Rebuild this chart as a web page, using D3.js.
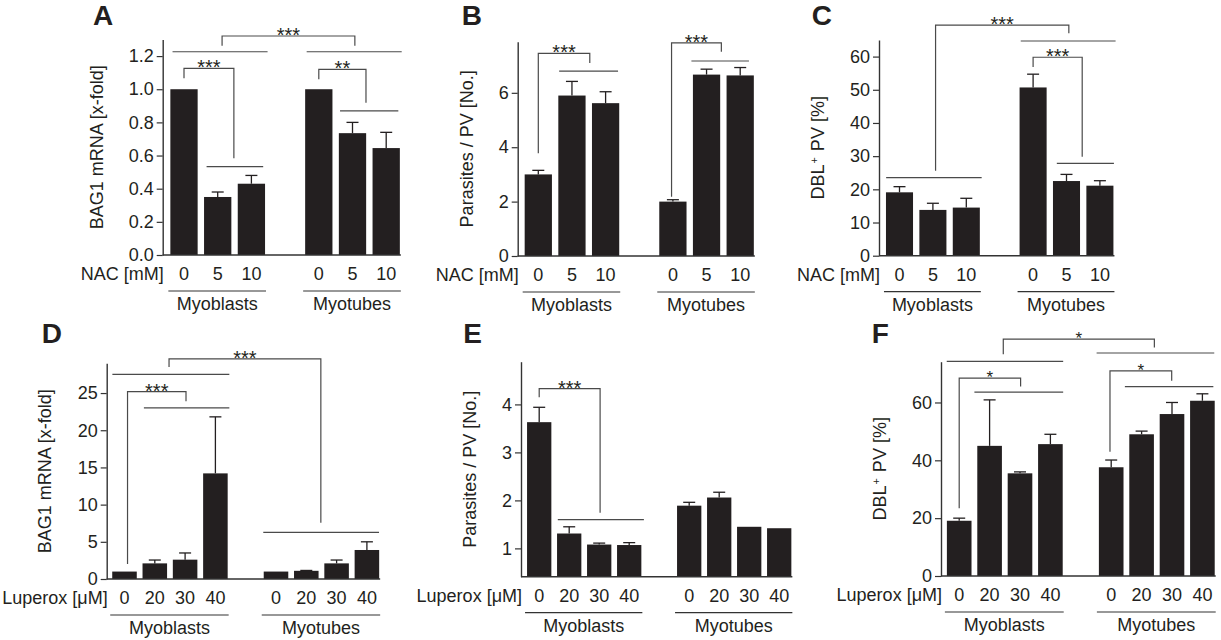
<!DOCTYPE html>
<html>
<head>
<meta charset="utf-8">
<script src="https://cdn.jsdelivr.net/npm/d3@7"></script>
<style>
  body { margin: 0; background: #fff; }
  svg text { font-family: "Liberation Sans", Arial, sans-serif; fill: #231f20; }
</style>
</head>
<body>
<svg id="fig" width="1221" height="640"></svg>
<script>
// categories
const cellGroups = ["Myoblasts", "Myotubes"];
const nacDoses = ["0", "5", "10"];
const luperoxDoses = ["0", "20", "30", "40"];

// A: BAG1 mRNA, NAC
const bagNacMean = [1.0, 0.35, 0.43, 1.0, 0.735, 0.645];
const bagNacErr  = [0, 0.03, 0.05, 0, 0.065, 0.095];
// B: parasites / PV, NAC
const parNacMean = [3.0, 5.9, 5.62, 2.0, 6.67, 6.64];
const parNacErr  = [0.15, 0.52, 0.42, 0.07, 0.2, 0.29];
// C: DBL+ PV, NAC
const dblNacMean = [19.1, 13.8, 14.5, 50.7, 22.5, 21.1];
const dblNacErr  = [1.7, 2.0, 2.8, 4.0, 2.0, 1.5];
// D: BAG1 mRNA, Luperox
const bagLupMean = [1.0, 2.1, 2.6, 14.2, 1.0, 1.1, 2.1, 3.9];
const bagLupErr  = [0, 0.45, 0.9, 7.6, 0, 0.05, 0.45, 1.1];
// E: parasites / PV, Luperox
const parLupMean = [3.63, 1.31, 1.08, 1.07, 1.89, 2.06, 1.45, 1.42];
const parLupErr  = [0.31, 0.14, 0.03, 0.05, 0.07, 0.11, 0, 0];
// F: DBL+ PV, Luperox
const dblLupMean = [19.1, 45.0, 35.5, 45.6, 37.6, 49.0, 56.0, 60.6];
const dblLupErr  = [0.9, 15.9, 0.5, 3.4, 2.5, 1.1, 4.0, 2.4];

// tick labels
const ticksA = [0, 0.2, 0.4, 0.6, 0.8, 1.0, 1.2];
const ticksB = [0, 2, 4, 6];
const ticksC = [0, 10, 20, 30, 40, 50, 60];
const ticksD = [0, 5, 10, 15, 20, 25];
const ticksE = [1, 2, 3, 4];
const ticksF = [0, 20, 40, 60];

// significance: [slot1, slot2, y, yDrop1, yDrop2, label] and plain lines [slot1, slot2, y]
const sigA = [[1.13, 5.07, 1.321, 1.263, 1.263, "***"], [0, 1.48, 1.126, 1.066, 0.583, "***"], [4, 5.4, 1.12, 1.06, 0.919, "**"]];
const linA = [[-0.34, 2.48, 1.226], [3.64, 6.46, 1.226], [0.67, 2.35, 0.533], [4.63, 6.36, 0.869]];
const sigB = [[0, 1.53, 7.45, 3.78, 7.1, "***"], [3.96, 5.44, 7.84, 2.18, 7.51, "***"]];
const linB = [[0.62, 2.37, 6.8], [4.55, 6.26, 7.17]];
const sigC = [[1.08, 5.07, 69.5, 25.6, 67, "***"], [4, 5.47, 59.8, 56.9, 29.8, "***"]];
const linC = [[3.63, 6.47, 64.7], [-0.4, 2.46, 23.5], [4.71, 6.42, 27.8]];
const sigD = [[1.47, 6.48, 29.6, 28.5, 7.56, "***"], [0.1, 2.03, 25.2, 2.0, 23.9, "***"]];
const linD = [[-0.4, 3.46, 27.5], [0.64, 3.46, 23.0], [4.58, 8.4, 6.27]];
const sigE = [[0, 2.03, 4.33, 4.15, 1.74, "***"]];
const linE = [[0.62, 3.49, 1.6]];
const sigF = [[1.45, 6.42, 81.9, 76.7, 79, "*"], [0, 2.02, 68.4, 23.4, 65.5, "*"], [4.96, 6.99, 70.9, 43, 67.5, "*"]];
const linF = [[-0.41, 3.42, 74.2], [4.52, 8.39, 77.1], [0.5, 3.42, 63.6], [5.45, 8.36, 65.5]];

const slots3 = [0, 1, 2, 4, 5, 6];
const slots4 = [0, 1, 2, 3, 5, 6, 7, 8];

const panels = [
  {letter: "A", lx: 93, ly: 25, axisX: 162.7, slot0: 184, step: 33.7, top: 39.5, bottom: 255, domain: [0, 1.3],
   ticks: ticksA, fmt: d3.format(".1f"), ylabel: "BAG1 mRNA [x-fold]", labOff: 66, doseName: "NAC [mM]",
   doses: nacDoses, slots: slots3, mean: bagNacMean, err: bagNacErr, sig: sigA, lin: linA, star: 20},
  {letter: "B", lx: 461.7, ly: 25, axisX: 517.7, slot0: 538.3, step: 33.65, top: 41.7, bottom: 256, domain: [0, 7.88],
   ticks: ticksB, fmt: d3.format("d"), ylabel: "Parasites / PV [No.]", labOff: 51, doseName: "NAC [mM]",
   doses: nacDoses, slots: slots3, mean: parNacMean, err: parNacErr, sig: sigB, lin: linB, star: 20},
  {letter: "C", lx: 811.7, ly: 25, axisX: 879, slot0: 899.5, step: 33.4, top: 40, bottom: 255.7, domain: [0, 65],
   ticks: ticksC, fmt: d3.format("d"), ylabel: "DBL", labOff: 61, doseName: "NAC [mM]",
   doses: nacDoses, slots: slots3, mean: dblNacMean, err: dblNacErr, sig: sigC, lin: linC, star: 20, sup: true},
  {letter: "D", lx: 41.7, ly: 343, axisX: 106.7, slot0: 124.5, step: 30.3, top: 363.3, bottom: 579, domain: [0, 29],
   ticks: ticksD, fmt: d3.format("d"), ylabel: "BAG1 mRNA [x-fold]", labOff: 62, doseName: "Luperox [\u03bcM]",
   doses: luperoxDoses, slots: slots4, mean: bagLupMean, err: bagLupErr, sig: sigD, lin: linD, star: 20},
  {letter: "E", lx: 463.3, ly: 343, axisX: 521, slot0: 539.2, step: 30, top: 361.7, bottom: 576.7, domain: [0.41, 4.89],
   ticks: ticksE, fmt: d3.format("d"), ylabel: "Parasites / PV [No.]", labOff: 51, doseName: "Luperox [\u03bcM]",
   doses: luperoxDoses, slots: slots4, mean: parLupMean, err: parLupErr, sig: sigE, lin: linE, star: 20},
  {letter: "F", lx: 871.7, ly: 343, axisX: 941, slot0: 959.2, step: 30.4, top: 361.7, bottom: 576, domain: [0, 74.1],
   ticks: ticksF, fmt: d3.format("d"), ylabel: "DBL", labOff: 61, doseName: "Luperox [\u03bcM]",
   doses: luperoxDoses, slots: slots4, mean: dblLupMean, err: dblLupErr, sig: sigF, lin: linF, star: 17, sup: true}
];

const svg = d3.select("#fig");
const barColor = "#231f20";
const lineColor = "#4a4a4a";

function drawPanel(p) {
  const g = svg.append("g");
  const x = d3.scaleLinear().domain([0, 1]).range([p.slot0, p.slot0 + p.step]);
  const y = d3.scaleLinear().domain(p.domain).range([p.bottom, p.top]);
  const bw = p.step * 0.81;
  const base = y(p.domain[0]);
  const nPer = p.doses.length;
  const lastSlot = p.slots[p.slots.length - 1];

  // panel letter
  g.append("text").attr("x", p.lx).attr("y", p.ly)
    .attr("font-size", "28px").attr("font-weight", "bold").text(p.letter);

  // y axis
  const ax = g.append("g").attr("transform", "translate(" + p.axisX + ",0)")
    .call(d3.axisLeft(y).tickValues(p.ticks).tickFormat(p.fmt).tickSize(6).tickSizeOuter(0));
  ax.select(".domain").attr("stroke", "#333").attr("stroke-width", 1.4);
  ax.selectAll(".tick line").attr("stroke", "#333").attr("stroke-width", 1.2);
  ax.selectAll(".tick text").attr("font-size", "18px").attr("x", -9)
    .attr("font-family", "Liberation Sans, Arial, sans-serif").attr("fill", "#231f20");

  // y label
  const lab = g.append("text")
    .attr("transform", "translate(" + (p.axisX - p.labOff) + "," + ((p.top + p.bottom) / 2) + ") rotate(-90)")
    .attr("text-anchor", "middle").attr("dy", "0.35em").attr("font-size", "18px");
  if (p.sup) {
    lab.append("tspan").text(p.ylabel);
    lab.append("tspan").attr("font-size", "11px").attr("baseline-shift", "super").attr("dx", 1).text("+");
    lab.append("tspan").attr("dx", 1).text(" PV [%]");
  } else {
    lab.text(p.ylabel);
  }

  // bars
  g.selectAll("rect.bar").data(p.mean).enter().append("rect")
    .attr("x", (d, i) => x(p.slots[i]) - bw / 2)
    .attr("y", d => y(d))
    .attr("width", bw)
    .attr("height", d => base - y(d))
    .attr("fill", barColor);

  // error bars
  p.mean.forEach((m, i) => {
    if (p.err[i] <= 0) return;
    const cx = x(p.slots[i]);
    g.append("line").attr("x1", cx).attr("x2", cx).attr("y1", y(m)).attr("y2", y(m + p.err[i]))
      .attr("stroke", barColor).attr("stroke-width", 1.3);
    g.append("line").attr("x1", cx - 6).attr("x2", cx + 6).attr("y1", y(m + p.err[i])).attr("y2", y(m + p.err[i]))
      .attr("stroke", barColor).attr("stroke-width", 1.3);
  });

  // x baseline
  g.append("line").attr("x1", p.axisX).attr("x2", x(lastSlot) + bw / 2 + 1)
    .attr("y1", base).attr("y2", base).attr("stroke", "#333").attr("stroke-width", 1.4);

  // dose labels
  g.append("text").attr("x", p.axisX + 1).attr("y", base + 19).attr("dy", "0.35em")
    .attr("text-anchor", "end").attr("font-size", "18px").text(p.doseName);
  p.slots.forEach((s, i) => {
    g.append("text").attr("x", x(s)).attr("y", base + 19).attr("dy", "0.35em")
      .attr("text-anchor", "middle").attr("font-size", "18px").text(p.doses[i % nPer]);
  });

  // group underline + names
  cellGroups.forEach((name, gi) => {
    const s1 = p.slots[gi * nPer], s2 = p.slots[gi * nPer + nPer - 1];
    const x1 = x(s1) - bw / 2 - 2, x2 = x(s2) + bw / 2 + 1;
    g.append("line").attr("x1", x1).attr("x2", x2).attr("y1", base + 36).attr("y2", base + 36)
      .attr("stroke", "#333").attr("stroke-width", 1.2);
    g.append("text").attr("x", (x1 + x2) / 2).attr("y", base + 49).attr("dy", "0.35em")
      .attr("text-anchor", "middle").attr("font-size", "18px").text(name);
  });

  // significance lines
  p.lin.forEach(l => {
    g.append("line").attr("x1", x(l[0])).attr("x2", x(l[1])).attr("y1", y(l[2])).attr("y2", y(l[2]))
      .attr("stroke", lineColor).attr("stroke-width", 1.2);
  });
  p.sig.forEach(s => {
    const path = d3.path();
    path.moveTo(x(s[0]), y(s[3]));
    path.lineTo(x(s[0]), y(s[2]));
    path.lineTo(x(s[1]), y(s[2]));
    path.lineTo(x(s[1]), y(s[4]));
    g.append("path").attr("d", path.toString()).attr("fill", "none")
      .attr("stroke", lineColor).attr("stroke-width", 1.2);
    g.append("text").attr("x", (x(s[0]) + x(s[1])) / 2).attr("y", y(s[2]) + p.star * 0.3)
      .attr("text-anchor", "middle").attr("font-size", p.star + "px").attr("fill", "#333").text(s[5]);
  });
}

panels.forEach(drawPanel);
</script>
</body>
</html>
